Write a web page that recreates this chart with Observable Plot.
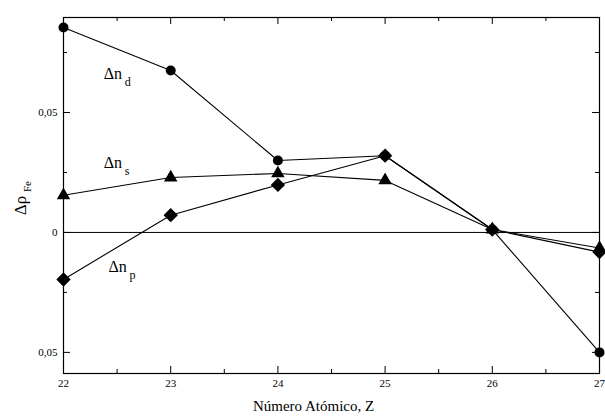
<!DOCTYPE html>
<html>
<head>
<meta charset="utf-8">
<script src="https://cdn.jsdelivr.net/npm/d3@7"></script>
<script src="https://cdn.jsdelivr.net/npm/@observablehq/plot@0.6"></script>
<style>
  html, body { margin: 0; padding: 0; background: #fff; }
  #chart { width: 605px; height: 417px; }
  #chart svg, #chart svg text { font-family: "Liberation Serif", "DejaVu Serif", serif !important; }
</style>
</head>
<body>
<div id="chart"></div>
<script>
// Atomic number Z
const Z = [22, 23, 24, 25, 26, 27];
// Series values (Δρ_Fe)
const dnD = [0.0854, 0.0675, 0.0300, 0.0320, 0.0012, -0.0500];
const dnS = [0.0155, 0.0229, 0.0246, 0.0217, 0.0012, -0.0065];
const dnP = [-0.0196, 0.0072, 0.0198, 0.0320, 0.0012, -0.0082];
// Tick values and labels
const xTicks = [22, 23, 24, 25, 26, 27];
const xMinorTicks = [22.5, 23.5, 24.5, 25.5, 26.5];
const yTicks = [-0.05, 0, 0.05];
const yTickLabels = ["0,05", "0", "0,05"];
const yMinorTicks = [-0.025, 0.025, 0.075];

const rows = (vals) => Z.map((z, i) => ({z, v: vals[i]}));
const D = rows(dnD), S = rows(dnS), P = rows(dnP);

const W = 605, H = 417;
const mL = 63, mR = 6, mT = 17, mB = 44;
const pw = W - mL - mR, ph = H - mT - mB;
const majorLen = 7, minorLen = 4;
const FF = "Liberation Serif, DejaVu Serif, serif";

const chart = Plot.plot({
  width: W, height: H,
  marginLeft: mL, marginRight: mR, marginTop: mT, marginBottom: mB,
  style: {fontFamily: FF, fontSize: "11px", background: "white", color: "black"},
  x: {domain: [22, 27]},
  y: {domain: [-0.0588, 0.0896]},
  marks: [
    Plot.frame({stroke: "black", strokeWidth: 1.2}),
    Plot.axisX({ticks: xTicks, tickSize: 0, tickPadding: 6, tickFormat: d => String(d), fontSize: 11, fontFamily: FF, label: null}),
    Plot.axisY({ticks: yTicks, tickSize: 0, tickPadding: 6, tickFormat: d => yTickLabels[yTicks.indexOf(d)], fontSize: 11, fontFamily: FF, label: null}),
    // inward ticks: bottom & top, left & right
    Plot.tickX(xTicks, {x: d => d, insetTop: ph - majorLen, stroke: "black"}),
    Plot.tickX(xTicks, {x: d => d, insetBottom: ph - majorLen, stroke: "black"}),
    Plot.tickX(xMinorTicks, {x: d => d, insetTop: ph - minorLen, stroke: "black"}),
    Plot.tickX(xMinorTicks, {x: d => d, insetBottom: ph - minorLen, stroke: "black"}),
    Plot.tickY(yTicks, {y: d => d, insetRight: pw - majorLen, stroke: "black"}),
    Plot.tickY(yTicks, {y: d => d, insetLeft: pw - majorLen, stroke: "black"}),
    Plot.tickY(yMinorTicks, {y: d => d, insetRight: pw - minorLen, stroke: "black"}),
    Plot.tickY(yMinorTicks, {y: d => d, insetLeft: pw - minorLen, stroke: "black"}),
    // zero line
    Plot.ruleY([0], {stroke: "black", strokeWidth: 1}),
    // series
    Plot.line(D, {x: "z", y: "v", stroke: "black", strokeWidth: 1.1}),
    Plot.line(S, {x: "z", y: "v", stroke: "black", strokeWidth: 1.1}),
    Plot.line(P, {x: "z", y: "v", stroke: "black", strokeWidth: 1.1}),
    Plot.dot(D, {x: "z", y: "v", symbol: "circle", r: 5, fill: "black"}),
    Plot.dot(S, {x: "z", y: "v", symbol: "triangle", r: 5, fill: "black"}),
    Plot.dot(P, {x: "z", y: "v", symbol: "diamond2", r: 5.5, fill: "black", stroke: "black"}),
    // series labels
    Plot.text(["Δn"], {x: 22.375, y: 0.064, text: d => d, textAnchor: "start", lineAnchor: "bottom", fontSize: 16, fontFamily: FF}),
    Plot.text(["d"], {x: 22.375, y: 0.064, text: d => d, textAnchor: "start", lineAnchor: "bottom", fontSize: 12, fontFamily: FF, dx: 21, dy: 7}),
    Plot.text(["Δn"], {x: 22.375, y: 0.027, text: d => d, textAnchor: "start", lineAnchor: "bottom", fontSize: 16, fontFamily: FF}),
    Plot.text(["s"], {x: 22.375, y: 0.027, text: d => d, textAnchor: "start", lineAnchor: "bottom", fontSize: 12, fontFamily: FF, dx: 21, dy: 7}),
    Plot.text(["Δn"], {x: 22.42, y: -0.0165, text: d => d, textAnchor: "start", lineAnchor: "bottom", fontSize: 16, fontFamily: FF}),
    Plot.text(["p"], {x: 22.42, y: -0.0165, text: d => d, textAnchor: "start", lineAnchor: "bottom", fontSize: 12, fontFamily: FF, dx: 21, dy: 7}),
    // axis titles
    Plot.text(["Número Atómico, Z"], {frameAnchor: "bottom", text: d => d, dx: -18, dy: 33, fontSize: 15, fontFamily: FF, lineAnchor: "middle"}),
    Plot.text(["Δρ"], {frameAnchor: "left", text: d => d, dx: -43, dy: 10, rotate: -90, fontSize: 17, fontFamily: FF, textAnchor: "middle", lineAnchor: "middle"}),
    Plot.text(["Fe"], {frameAnchor: "left", text: d => d, dx: -36, dy: -9, rotate: -90, fontSize: 11, fontFamily: FF, textAnchor: "middle", lineAnchor: "middle"})
  ]
});
document.getElementById("chart").appendChild(chart);
</script>
</body>
</html>
